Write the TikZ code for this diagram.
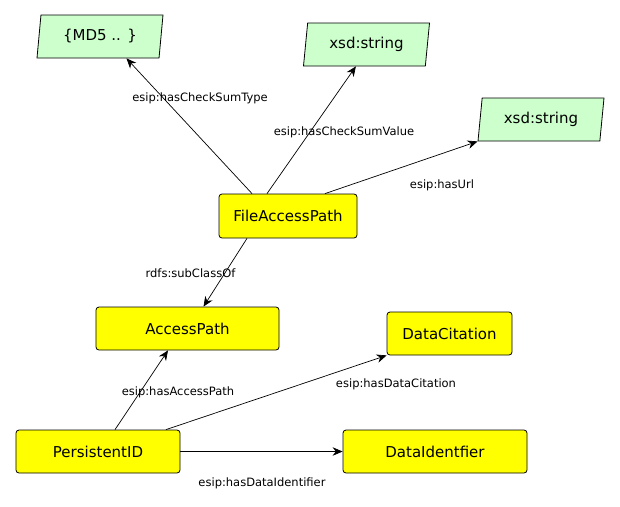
\documentclass[tikz,border=0pt]{standalone}
\usepackage{fontspec}
\setmainfont{DejaVu Sans}
\usepackage{xcolor}
\usetikzlibrary{arrows.meta}
\usetikzlibrary{shapes.geometric}
\definecolor{classyellow}{RGB}{255,255,0}
\definecolor{litgreen}{RGB}{204,255,204}
\tikzset{
  classbox/.style={draw, line width=0.8pt, rounded corners=3pt, fill=classyellow, inner sep=0pt,
    minimum height=43pt, font=\fontsize{15}{18}\selectfont},
  litbox/.style={draw, line width=0.8pt, trapezium, trapezium left angle=74, trapezium right angle=106,
    trapezium stretches body, fill=litgreen, inner sep=0pt, minimum width=126pt,
    minimum height=43pt, font=\fontsize{15}{18}\selectfont},
  prop/.style={inner sep=0pt, font=\fontsize{11.5}{14}\selectfont},
  rel/.style={draw, line width=0.7pt, -{Stealth[length=10pt,width=8.5pt]}}
}

\begin{document}
\begin{tikzpicture}[x=1pt, y=-1pt]
\useasboundingbox (0,0) rectangle (620,506);

% literals
\node[litbox] (md5) at (100,36.5) {\{MD5 .. \}};
\node[litbox] (sumval) at (366.5,44.5) {xsd:string};
\node[litbox] (url) at (541,119.5) {xsd:string};

% classes
\node[classbox, minimum width=138pt, minimum height=44pt] (fap) at (288,216) {FileAccessPath};
\node[classbox, minimum width=183pt] (ap) at (187.5,328.5) {AccessPath};
\node[classbox, minimum width=125pt] (dc) at (449.5,333.5) {DataCitation};
\node[classbox, minimum width=164pt] (pid) at (98,451.5) {PersistentID};
\node[classbox, minimum width=184pt] (di) at (435,451.5) {DataIdentfier};

% properties
\draw[rel] ([xshift=-36pt]fap.north) -- ([xshift=28.5pt]md5.bottom side);
\draw[rel] ([xshift=-21pt]fap.north) -- ([xshift=-8.5pt]sumval.bottom side);
\draw[rel] ([xshift=37pt]fap.north) -- (url.bottom left corner);
\draw[rel] ([xshift=-41pt]fap.south) -- ([xshift=16pt]ap.north);
\draw[rel] ([xshift=17pt]pid.north) -- ([xshift=-19.5pt]ap.south);
\draw[rel] ([xshift=68pt]pid.north) -- (dc.south west);
\draw[rel] (pid.east) -- (di.west);

\node[prop] (ltype) at (200,98) {esip:hasCheckSumType};
\node[prop] (lval) at (344,132) {esip:hasCheckSumValue};
\node[prop] (lurl) at (442,185) {esip:hasUrl};
\node[prop] (lsub) at (190.5,273) {rdfs:subClassOf};
\node[prop] (lap) at (178,392) {esip:hasAccessPath};
\node[prop] (ldc) at (396,384) {esip:hasDataCitation};
\node[prop] (ldi) at (262,483) {esip:hasDataIdentifier};
\end{tikzpicture}
\end{document}
